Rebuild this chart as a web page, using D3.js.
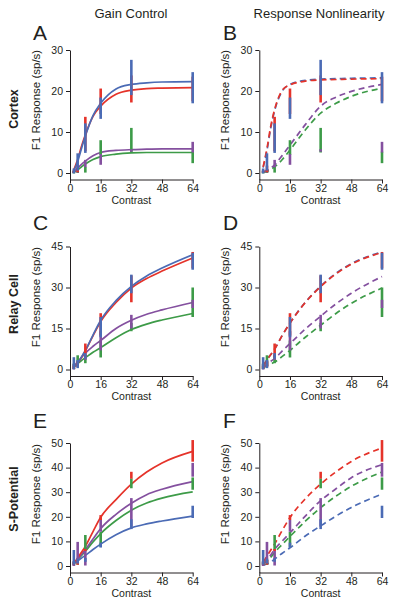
<!DOCTYPE html>
<html><head><meta charset="utf-8">
<script src="https://cdn.jsdelivr.net/npm/d3@7"></script>
<style>
body{margin:0;background:#fff}
svg{display:block}
text{font-family:"Liberation Sans",Arial,Helvetica,sans-serif;fill:#231f20}
</style>
</head><body>
<svg id="chart" width="400" height="606"></svg>
<script>
// ---------- data ----------
const contrasts = [2, 4, 8, 16, 32, 64];
const fitContrasts = [2, 4, 6, 8, 12, 16, 24, 32, 40, 48, 64];
const seriesKeys = ["red", "blue", "green", "purple"];
const seriesColors = ["#e5332a", "#4b6bb5", "#3d9b48", "#84509f"];
const xTicks = [0, 16, 32, 48, 64];
const columnTitles = ["Gain Control", "Response Nonlinearity"];
const rowTitles = ["Cortex", "Relay Cell", "S-Potential"];
const panelLetters = [["A", "B"], ["C", "D"], ["E", "F"]];
const yTicksCortex = [0, 10, 20, 30];
const yTicksRelay = [0, 15, 30, 45];
const yTicksSpot = [0, 10, 20, 30, 40, 50];

// error bar data: rows = red, blue, green, purple; columns = contrasts
const cortexMean = [
  [0.3, 1.0, 9.5, 17.5, 20.5, 20.5],
  [0.5, 2.7, 8.5, 15.8, 23.3, 20.8],
  [0.2, 0.3, 0.8, 6.2, 8.0, 3.8],
  [0.3, 0.5, 2.3, 3.3, 5.5, 6.3]];
const cortexErr = [
  [0.3, 0.8, 4.2, 3.1, 3.3, 3.0],
  [0.6, 2.1, 3.6, 2.6, 4.3, 3.8],
  [0.3, 0.3, 0.7, 1.8, 3.0, 1.4],
  [0.3, 0.4, 0.9, 1.3, 0.3, 1.3]];
const relayMean = [
  [0.8, 2.0, 7.0, 16.5, 29.5, 40.0],
  [2.3, 2.0, 5.0, 15.5, 31.3, 39.6],
  [1.2, 3.3, 3.8, 7.5, 15.5, 24.6],
  [1.0, 2.0, 4.5, 10.5, 17.5, 24.0]];
const relayErr = [
  [0.6, 1.0, 2.5, 4.1, 4.9, 3.0],
  [2.2, 1.5, 1.0, 3.7, 3.4, 3.1],
  [1.0, 1.9, 1.5, 3.1, 1.5, 5.4],
  [1.0, 1.0, 1.0, 3.5, 2.5, 1.5]];
const spotMean = [
  [1.0, 1.5, 6.5, 19.7, 36.9, 46.8],
  [3.5, 2.0, 2.5, 8.5, 17.0, 22.0],
  [1.0, 1.5, 9.5, 10.8, 33.6, 33.5],
  [1.0, 5.5, 3.5, 16.3, 21.8, 39.1]];
const spotErr = [
  [0.5, 1.0, 0.4, 1.0, 1.4, 4.4],
  [3.0, 1.0, 0.8, 1.0, 2.0, 2.5],
  [0.8, 1.0, 3.1, 3.0, 2.0, 2.5],
  [1.0, 4.3, 3.3, 2.4, 5.8, 2.8]];

// fitted curves, sampled at fitContrasts (red, blue, green, purple)
const fitGainCortex = [
  [0.8, 3.3, 6.5, 9.3, 13.8, 16.3, 19.2, 20.2, 20.6, 20.7, 20.8],
  [0.5, 2.8, 6.0, 9.0, 14.0, 17.0, 20.5, 21.6, 22.0, 22.2, 22.3],
  [0.2, 0.8, 1.5, 2.2, 3.3, 4.0, 4.6, 4.9, 5.0, 5.0, 5.0],
  [0.3, 1.2, 2.1, 2.9, 4.2, 5.0, 5.5, 5.7, 5.8, 5.9, 5.9]];
const fitNonlinCortex = [
  [1.5, 6.0, 11.5, 15.5, 20.2, 21.5, 22.4, 22.7, 22.8, 22.9, 23.0],
  [1.3, 5.5, 11.0, 15.2, 20.0, 21.6, 22.6, 22.9, 23.0, 23.1, 23.2],
  [0.2, 0.4, 0.9, 1.5, 3.3, 5.6, 10.5, 14.6, 17.0, 18.7, 20.7],
  [0.3, 0.6, 1.2, 2.0, 4.3, 6.8, 11.8, 16.3, 18.5, 19.9, 21.6]];
const fitGainRelay = [
  [0.9, 2.2, 4.5, 6.8, 12.3, 17.5, 24.5, 29.8, 33.3, 36.0, 40.8],
  [0.9, 2.3, 4.6, 7.0, 12.6, 18.0, 25.2, 30.4, 34.2, 37.1, 42.0],
  [1.0, 2.2, 3.3, 4.3, 6.3, 8.0, 11.6, 14.6, 16.6, 18.1, 20.5],
  [1.2, 2.8, 4.4, 6.0, 8.5, 10.6, 15.0, 18.0, 20.2, 21.8, 24.5]];
const fitNonlinRelay = [
  [1.2, 3.5, 5.5, 7.5, 12.5, 17.0, 24.5, 30.3, 35.0, 38.5, 42.8],
  [1.2, 3.5, 5.5, 7.5, 12.5, 17.0, 24.6, 30.5, 35.2, 38.7, 43.0],
  [0.5, 1.5, 2.1, 2.7, 4.8, 7.0, 11.8, 16.2, 20.5, 24.2, 29.8],
  [0.6, 2.0, 3.0, 4.0, 6.8, 9.5, 14.8, 19.5, 24.0, 27.9, 34.0]];
const fitGainSpot = [
  [1.0, 3.3, 5.6, 8.0, 14.0, 19.8, 27.0, 33.3, 38.2, 41.9, 46.6],
  [1.0, 2.0, 3.2, 4.3, 6.7, 8.9, 12.7, 15.5, 17.1, 18.3, 20.3],
  [1.0, 2.5, 4.3, 6.0, 9.8, 13.2, 18.5, 22.7, 25.6, 27.6, 30.1],
  [1.0, 2.7, 4.7, 6.6, 11.0, 15.2, 21.0, 25.5, 29.0, 31.2, 34.3]];
const fitNonlinSpot = [
  [1.5, 4.0, 6.5, 9.0, 14.5, 19.7, 27.3, 33.3, 38.3, 42.5, 48.0],
  [0.3, 0.8, 1.6, 2.8, 5.2, 7.4, 12.2, 16.3, 20.3, 23.8, 29.2],
  [0.8, 2.0, 3.6, 5.5, 8.8, 12.0, 18.2, 23.7, 28.4, 32.4, 38.2],
  [1.0, 2.5, 4.5, 6.8, 10.2, 13.5, 20.3, 26.6, 31.4, 35.9, 41.2]];

// ---------- layout ----------
const rows = [
  {title: rowTitles[0], ymax: 30, ticks: yTicksCortex, top: 50, mean: cortexMean, err: cortexErr,
   fits: [fitGainCortex, fitNonlinCortex], titleY: 109, yLabelY: 100, letterY: 40, xLabelY: 204},
  {title: rowTitles[1], ymax: 45, ticks: yTicksRelay, top: 246.5, mean: relayMean, err: relayErr,
   fits: [fitGainRelay, fitNonlinRelay], titleY: 304, yLabelY: 297, letterY: 230, xLabelY: 400},
  {title: rowTitles[2], ymax: 50, ticks: yTicksSpot, top: 443, mean: spotMean, err: spotErr,
   fits: [fitGainSpot, fitNonlinSpot], titleY: 499, yLabelY: 494, letterY: 428, xLabelY: 597}
];
const colX = [70, 259.3];
const plotW = 122.7, plotH = 123, gap = 6.5;
const letterX = [33, 223];

const svg = d3.select("#chart");

columnTitles.forEach((t, i) => {
  svg.append("text").attr("x", [131, 319][i]).attr("y", 18)
    .attr("text-anchor", "middle").style("font-size", "13px").text(t);
});

const solidOrder = [2, 3, 0, 1];   // green, purple, red, blue
const dashOrder = [2, 3, 1, 0];    // green, purple, blue, red
const barOrder = [2, 3, 0, 1];

rows.forEach((row, ri) => {
  svg.append("text")
    .attr("transform", `translate(18,${row.titleY}) rotate(-90)`)
    .attr("text-anchor", "middle")
    .style("font-size", "12.5px").style("font-weight", "bold")
    .text(row.title);

  [0, 1].forEach(ci => {
    const x0 = colX[ci];
    const ymin = -gap * row.ymax / plotH;
    const x = d3.scaleLinear().domain([0, 64]).range([x0, x0 + plotW]);
    const y = d3.scaleLinear().domain([ymin, row.ymax]).range([row.top + plotH + gap, row.top]);
    const g = svg.append("g");

    // axes
    const ya = g.append("g").attr("transform", `translate(${x0},0)`)
      .call(d3.axisLeft(y).tickValues(row.ticks).tickSize(4).tickPadding(3).tickSizeOuter(0));
    const xa = g.append("g").attr("transform", `translate(0,${row.top + plotH + gap})`)
      .call(d3.axisBottom(x).tickValues(xTicks).tickSize(4).tickPadding(1).tickSizeOuter(0));
    [ya, xa].forEach(a => {
      a.selectAll("path,line").attr("stroke", "#231f20").attr("stroke-width", 1);
      a.selectAll("text").style("font-size", "10.5px").attr("fill", "#231f20")
        .style("font-family", '"Liberation Sans",Arial,sans-serif');
    });

    g.append("text").attr("x", x0 + plotW / 2).attr("y", row.xLabelY)
      .attr("text-anchor", "middle").style("font-size", "10.5px").text("Contrast");
    g.append("text")
      .attr("transform", `translate(${x0 - 30},${row.yLabelY}) rotate(-90)`)
      .attr("text-anchor", "middle").style("font-size", "11.5px")
      .text("F1 Response (sp/s)");
    g.append("text").attr("x", letterX[ci]).attr("y", row.letterY)
      .style("font-size", "21px").text(panelLetters[ri][ci]);

    // curves
    const line = d3.line().x((d, i) => x(fitContrasts[i])).y(d => y(d)).curve(d3.curveMonotoneX);
    const order = ci === 0 ? solidOrder : dashOrder;
    order.forEach(si => {
      g.append("path").datum(row.fits[ci][si])
        .attr("d", line).attr("fill", "none")
        .attr("stroke", seriesColors[si]).attr("stroke-width", 1.7)
        .attr("stroke-dasharray", ci === 1 ? "6,4" : null);
    });

    // error bars
    barOrder.forEach(si => {
      g.selectAll(null).data(contrasts).enter().append("line")
        .attr("x1", c => x(c)).attr("x2", c => x(c))
        .attr("y1", (c, i) => y(row.mean[si][i] - row.err[si][i]))
        .attr("y2", (c, i) => y(row.mean[si][i] + row.err[si][i]))
        .attr("stroke", seriesColors[si]).attr("stroke-width", 2.6);
    });
  });
});
</script>
</body></html>
